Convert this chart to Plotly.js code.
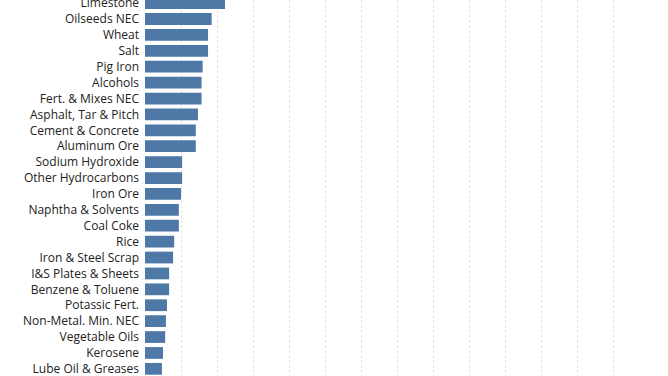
<!DOCTYPE html>
<html>
<head>
<meta charset="utf-8">
<script src="https://cdn.plot.ly/plotly-3.0.1.min.js"></script>
<style>html,body{margin:0;padding:0;background:#fff;}#chart{width:668px;height:376px;}</style>
</head>
<body>
<div id="chart"></div>
<script>
const categories = [
  "Limestone", "Oilseeds NEC", "Wheat", "Salt", "Pig Iron", "Alcohols",
  "Fert. & Mixes NEC", "Asphalt, Tar & Pitch", "Cement & Concrete", "Aluminum Ore",
  "Sodium Hydroxide", "Other Hydrocarbons", "Iron Ore", "Naphtha & Solvents",
  "Coal Coke", "Rice", "Iron & Steel Scrap", "I&S Plates & Sheets",
  "Benzene & Toluene", "Potassic Fert.", "Non-Metal. Min. NEC", "Vegetable Oils",
  "Kerosene", "Lube Oil & Greases"
];
const values = [
  22.2, 18.5, 17.5, 17.5, 16.0, 15.7,
  15.7, 14.7, 14.1, 14.1,
  10.3, 10.3, 10.0, 9.4,
  9.4, 8.1, 7.8, 6.7,
  6.7, 6.1, 5.8, 5.6,
  5.0, 4.7
];

const trace = {
  type: 'bar',
  orientation: 'h',
  x: values,
  y: categories,
  marker: {color: '#4e79a7'},
  hoverinfo: 'x+y'
};

const layout = {
  width: 668,
  height: 376,
  margin: {l: 145, r: 33, t: 0, b: 0, pad: 0},
  paper_bgcolor: '#ffffff',
  plot_bgcolor: '#ffffff',
  bargap: 0.26,
  showlegend: false,
  xaxis: {
    range: [0, 136],
    dtick: 10,
    tick0: 0,
    showticklabels: false,
    showgrid: true,
    gridcolor: '#e3e3e3',
    griddash: '3px,2px',
    gridwidth: 1,
    zeroline: false,
    showline: false,
    ticks: ''
  },
  yaxis: {
    type: 'category',
    range: [23.45, -0.195],
    showgrid: false,
    zeroline: false,
    showline: false,
    ticks: '',
    ticklabelstandoff: 5,
    tickfont: {family: 'Open Sans, sans-serif', size: 12, color: '#222222'}
  }
};

Plotly.newPlot('chart', [trace], layout, {displayModeBar: false, staticPlot: true});
</script>
</body>
</html>
